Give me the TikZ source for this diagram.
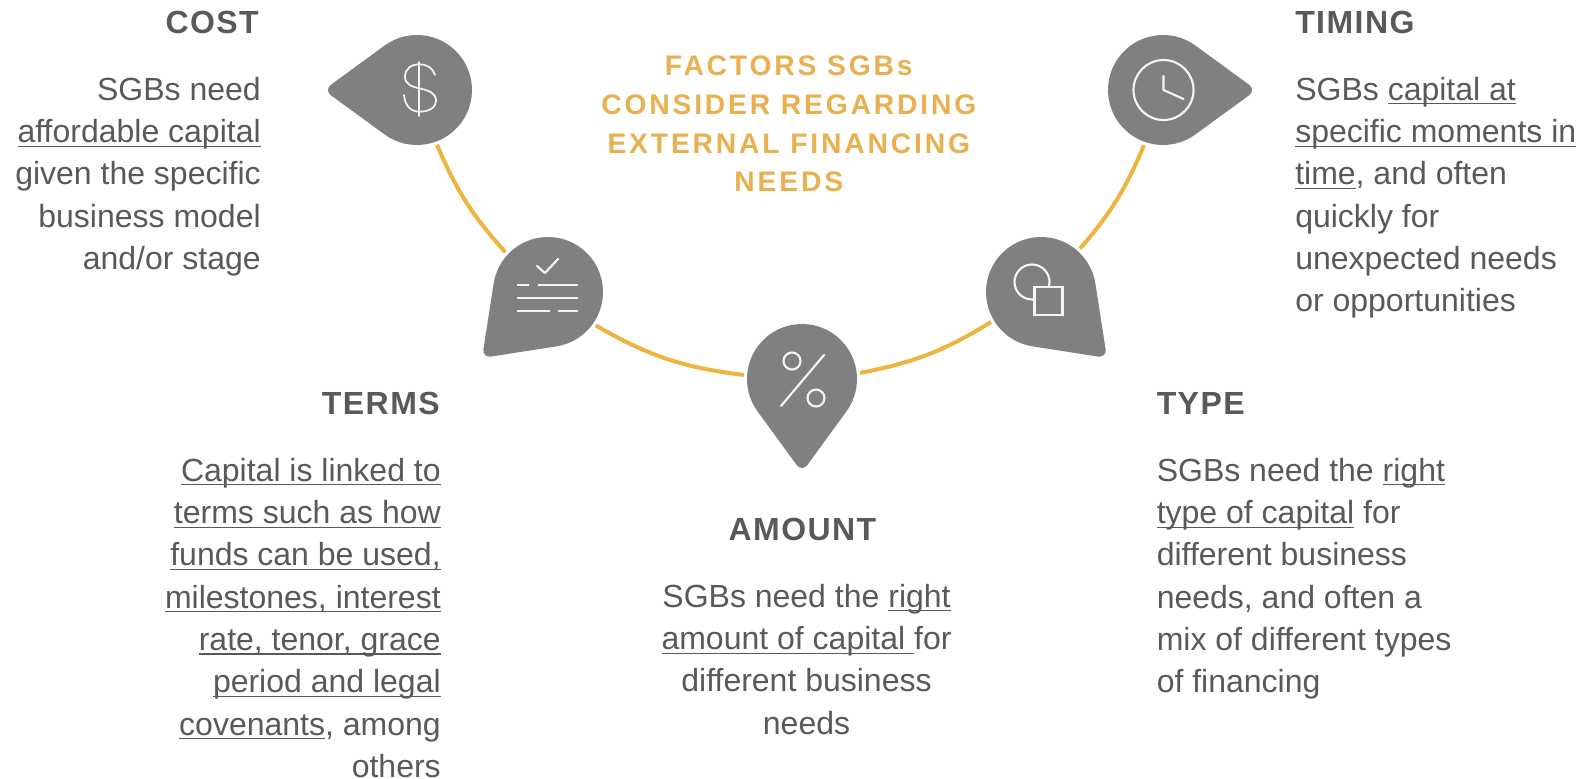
\documentclass[tikz,border=0pt]{standalone}
\usepackage{fontspec}
\setmainfont{Liberation Sans}
\newfontfamily\headfont[LetterSpace=4.5]{Liberation Sans Bold}
\newfontfamily\mainhead[LetterSpace=10]{Liberation Sans Bold}
\definecolor{pingray}{HTML}{808080}
\definecolor{txtgray}{HTML}{595959}
\definecolor{arcorange}{HTML}{EFB340}
\definecolor{headorange}{HTML}{E8B04F}
\definecolor{iconwhite}{HTML}{F4F4F4}
\newsavebox\ulbox
\newcommand\ulin[1]{\leavevmode\sbox\ulbox{#1}\rlap{\rule[-3pt]{\wd\ulbox}{0.8pt}}\usebox\ulbox}
\newcommand\pinshape[4]{%
  \node[pinanchor] (#1) at (#2,#3) {};
  \begin{scope}[shift={(#2,#3)},rotate=#4]
    \fill[pingray] (53.9:55) arc[start angle=53.9,end angle=306.1,radius=55]
      -- (86.03,-5.3) .. controls (90.03,-2.39) and (90.03,2.39) .. (86.03,5.3) -- cycle;
  \end{scope}}
\tikzset{
  x=0.75pt,y=0.75pt,
  pinanchor/.style={circle,inner sep=0,minimum size=82.5pt,outer sep=2.5pt},
  linkarc/.style={arcorange,line width=3pt},
  iconline/.style={iconwhite,line width=1.6pt,line cap=round,line join=round},
  iconthin/.style={iconwhite,line width=1.3pt,line cap=round},
  headtxt/.style={inner sep=0,text=txtgray,font=\fontsize{24}{30}\headfont},
  bodytxt/.style={inner sep=0,text=txtgray,font=\fontsize{24}{31.7}\selectfont},
}
\begin{document}
\begin{tikzpicture}
\useasboundingbox (0,0) rectangle (1580,-778);
% pins
\pinshape{cost}{417}{-90}{180}
\pinshape{terms}{548}{-292}{225}
\pinshape{amount}{802}{-379}{270}
\pinshape{type}{1041}{-292}{315}
\pinshape{timing}{1163}{-90}{0}
% connectors
\draw[linkarc] (cost.-70) to[bend right=9.4] (terms.137);
\draw[linkarc] (terms.-35) to[bend right=11.6] (amount.176);
\draw[linkarc] (amount.6) to[bend right=10.4] (type.211);
\draw[linkarc] (type.48) to[bend right=9] (timing.-109);
% dollar icon
\draw[iconthin] (435,-75) .. controls (433,-68) and (427,-64.3) .. (419.3,-64.3)
  .. controls (411,-64.3) and (405,-69) .. (405,-76.7)
  .. controls (405,-84) and (411,-86.5) .. (419.3,-88.3)
  .. controls (429,-90.5) and (436,-93) .. (436,-101)
  .. controls (436,-107.5) and (429,-111.7) .. (419.3,-111.7)
  .. controls (411,-111.7) and (405,-106) .. (404,-95);
\draw[iconthin] (419.3,-62) -- (419.3,-116);
% terms icon
\draw[iconline] (537,-266) -- (545,-273) -- (558,-259);
\draw[iconline,line cap=butt,line width=2pt] (517,-285) -- (529,-285) (538,-285) -- (578,-285)
  (517,-298) -- (578,-298) (517,-311) -- (550,-311) (558,-311) -- (578,-311);
% percent icon
\draw[iconline] (792,-361) circle[radius=8.5] (816,-398) circle[radius=8.5];
\draw[iconline] (824,-355) -- (781,-406);
% type icon
\draw[iconline] (1032,-282) circle[radius=17.5];
\draw[iconline,fill=pingray,line cap=butt,line join=miter] (1034.5,-287) rectangle (1062.5,-315);
% clock icon
\draw[iconline] (1163.5,-90) circle[radius=30];
\draw[iconline] (1163.5,-76) -- (1163.5,-90) -- (1183.5,-99);
% central title
\node[name=maintitle,inner sep=0,text=headorange,align=center,anchor=north,
  font=\fontsize{21.2}{29.1}\mainhead] at (788.8,-55.5)
  {FACTORS SGBs\\CONSIDER REGARDING\\EXTERNAL FINANCING\\NEEDS};
% headings
\node[headtxt,anchor=north east,name=costhead] at (259,-11) {COST};
\node[headtxt,anchor=north west,name=timinghead] at (1295,-11) {TIMING};
\node[headtxt,anchor=north east,name=termshead] at (440,-392) {TERMS};
\node[headtxt,anchor=north west,name=typehead] at (1156.5,-392) {TYPE};
\node[headtxt,anchor=north,name=amounthead] at (802.5,-518) {AMOUNT};
% bodies
\node[bodytxt,anchor=north east,align=right,name=costbody] at (261,-77)
  {SGBs need\\\ulin{affordable capital}\\given the specific\\business model\\and/or stage};
\node[bodytxt,anchor=north west,align=left,name=timingbody] at (1295,-77)
  {SGBs \ulin{capital at}\\\ulin{specific moments in}\\\ulin{time}, and often\\quickly for\\unexpected needs\\or opportunities};
\node[bodytxt,anchor=north east,align=right,name=termsbody] at (441,-458)
  {\ulin{Capital is linked to}\\\ulin{terms such as how}\\\ulin{funds can be used,}\\\ulin{milestones, interest}\\\ulin{rate, tenor, grace}\\\ulin{period and legal}\\\ulin{covenants}, among\\others};
\node[bodytxt,anchor=north west,align=left,name=typebody] at (1156.5,-458)
  {SGBs need the \ulin{right}\\\ulin{type of capital} for\\different business\\needs, and often a\\mix of different types\\of financing};
\node[bodytxt,anchor=north,align=center,name=amountbody] at (806.5,-584)
  {SGBs need the \ulin{right}\\\ulin{amount of capital\ }for\\different business\\needs};
\end{tikzpicture}
\end{document}
